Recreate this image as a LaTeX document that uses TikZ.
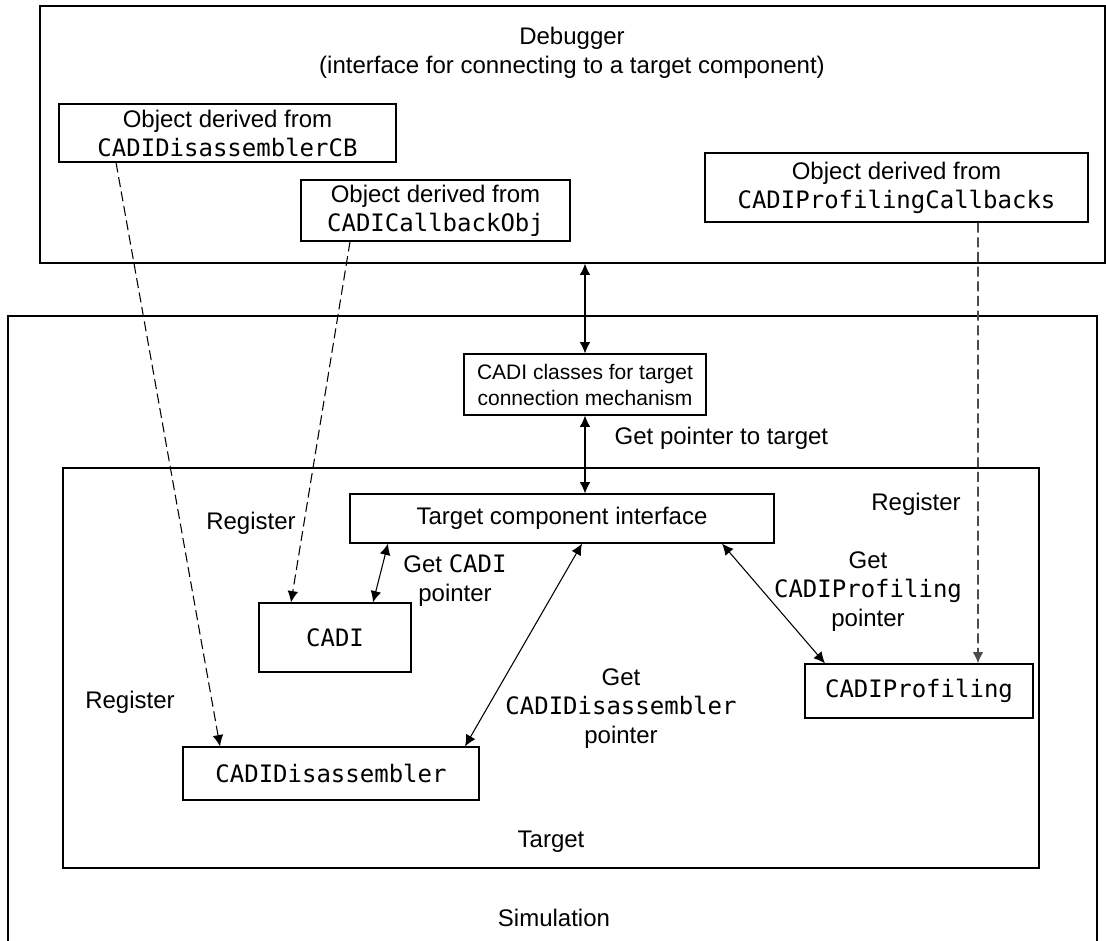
\documentclass[tikz,border=0pt]{standalone}
\usepackage{fontspec}
\setmainfont{Liberation Sans}
\setmonofont{DejaVu Sans Mono}
\usepackage{tikz}
\usetikzlibrary{positioning, arrows.meta, fit, calc}
\tikzstyle{arrow} = [line width=0.8pt,<->,>={Latex[length=8.5pt,width=8pt]}]

\begin{document}
\begin{tikzpicture}[x=0.75pt,y=-0.75pt]
        \tikzstyle{every node}=[font=\fontsize{18}{21.75}\selectfont, align=center]
        \tikzstyle{box} = [rectangle, draw=black, line width=0.9pt, inner sep=0pt]
        \tikzstyle{frame} = [rectangle, draw=black, line width=1pt, inner sep=0pt]
        \tikzstyle{hidden} = [draw=none]
        \tikzstyle{register} = [->, >={Latex[length=8.5pt,width=8pt]}, line width=0.8pt, dash pattern=on 7.5pt off 3.5pt]

        \useasboundingbox (0,0) rectangle (1106,941);

        % outer frames
        \node[frame, fit={(40,6) (1105,263)}](dbg) {};
        \draw[line width=1.8pt] (8,941) -- (8,316) -- (1097,316) -- (1097,941);
        \node[frame, line width=1.2pt, fit={(63,468) (1039,868)}](tgt) {};

        \node[hidden](dbgtext) at (572,53) {Debugger\\(interface for connecting to a target component)};
        \node[hidden](tgttext) at (551,842) {Target};
        \node[hidden](simtext) at (554,918) {Simulation};

        % callback objects in the debugger
        \node[box, minimum width=252.75pt, minimum height=43.5pt](discb) at (227.5,133) {Object derived from\\\texttt{CADIDisassemblerCB}};
        \node[box, minimum width=201.75pt, minimum height=45.75pt](cbobj) at (435.5,210.5) {Object derived from\\\texttt{CADICallbackObj}};
        \node[box, minimum width=287.25pt, minimum height=51.75pt](profcb) at (896.5,187.5) {Object derived from\\\texttt{CADIProfilingCallbacks}};

        % target side
        \node[box, minimum width=181.5pt, minimum height=45.75pt, font=\fontsize{15.75}{19.5}\selectfont](cls) at (585,384.5) {CADI classes for target\\connection mechanism};
        \node[box, minimum width=318pt, minimum height=36.75pt](tci) at (562,518.5) {Target component interface};
        \node[box, minimum width=114pt, minimum height=51.75pt](cadi) at (335,637.5) {\texttt{CADI}};
        \node[box, minimum width=171pt, minimum height=40.5pt](prof) at (919,691) {\texttt{CADIProfiling}};
        \node[box, minimum width=222pt, minimum height=39.75pt](dis) at (331,773.5) {\texttt{CADIDisassembler}};

        \draw[arrow] (cls.north |- dbg.south) -- (cls.north);
        \draw[arrow] (cls.south) -- (cls.south |- tci.north);
        \draw[arrow] ([xshift=28.5pt]cadi.north) -- ([xshift=-130.5pt]tci.south);
        \draw[arrow] ([xshift=100.5pt]dis.north) -- ([xshift=15pt]tci.south);
        \draw[arrow] ([xshift=-70.5pt]prof.north) -- ([xshift=120pt]tci.south);

        % register links
        \draw[register] ([xshift=-83.6pt]discb.south) -- ([xshift=-83.25pt]dis.north);
        \draw[register] ([xshift=-64.1pt]cbobj.south) -- ([xshift=-33pt]cadi.north);
        \draw[register, draw=black!70, line width=1.3pt] ([xshift=61.1pt]profcb.south) -- ([xshift=44.25pt]prof.north);

        \node[hidden, anchor=west](gpt) at (610,438) {Get pointer to target};
        \node[hidden](reg1) at (251,523) {Register};
        \node[hidden](reg2) at (916,504) {Register};
        \node[hidden](reg3) at (130,702) {Register};
        \node[hidden](gcadi) at (455,581) {Get \texttt{CADI}\\pointer};
        \node[hidden](gprof) at (868,592) {Get\\\texttt{CADIProfiling}\\pointer};
        \node[hidden](gdis) at (621,709) {Get\\\texttt{CADIDisassembler}\\pointer};
\end{tikzpicture}
\end{document}
